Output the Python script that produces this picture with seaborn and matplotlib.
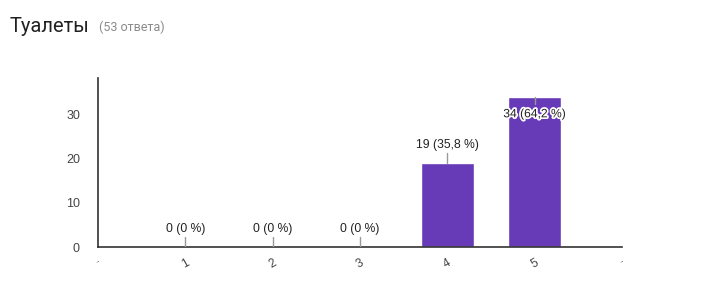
import matplotlib
matplotlib.use("Agg")
import matplotlib.pyplot as plt
import matplotlib.patheffects as pe
import seaborn as sns
import pandas as pd

title = "Туалеты"
subtitle = "(53 ответа)"
categories = ["", "1", "2", "3", "4", "5", " "]
counts = [0, 0, 0, 0, 19, 34, 0]
labels = ["", "0 (0 %)", "0 (0 %)", "0 (0 %)", "19 (35,8 %)", "34 (64,2 %)", ""]
yticks = [0, 10, 20, 30]

sns.set_theme(style="white")
plt.rcParams["font.family"] = ["Liberation Sans", "DejaVu Sans"]

df = pd.DataFrame({"cat": categories, "count": counts})

fig = plt.figure(figsize=(7.01, 2.87), dpi=100)
ax = fig.add_axes([98/701, 40/287, (622-98)/701, (247-78)/287])

sns.barplot(data=df, x="cat", y="count", order=categories, color="#673AB7",
            saturation=1, width=0.61, ax=ax)

ymax = 38.2
ax.set_xlim(0, 6)
ax.set_ylim(0, ymax)
ax.set_yticks(yticks)
ax.set_xlabel("")
ax.set_ylabel("")
ax.tick_params(axis="y", length=0, labelsize=9, labelcolor="#444444", pad=13)
ax.tick_params(axis="x", length=0, labelsize=8.5, labelcolor="#444444", pad=7)
ax.set_xticks(range(len(categories)))
ax.set_xticklabels(["..", "1", "2", "3", "4", "5", ".."], rotation=30)
for lbl in ax.get_xticklabels():
    lbl.set_fontsize(6 if lbl.get_text() == ".." else 8.5)

for s in ["top", "right"]:
    ax.spines[s].set_visible(False)
for s in ["left", "bottom"]:
    ax.spines[s].set_color("#333333")
    ax.spines[s].set_linewidth(1.2)

for i, (c, t) in enumerate(zip(counts, labels)):
    if not t:
        continue
    if c + 6 > ymax:
        ax.plot([i, i], [c, c - 1.6], color="#999999", lw=1, zorder=3)
        ax.text(i, c - 4, t, ha="center", va="center", fontsize=8.7, color="#222222",
                path_effects=[pe.withStroke(linewidth=2.5, foreground="white")], zorder=4)
    else:
        ax.plot([i, i], [c, c + 2.3], color="#999999", lw=1, zorder=3)
        ax.text(i, c + 4.1, t, ha="center", va="center", fontsize=8.7, color="#222222", zorder=4)

fig.text(10/701, 1 - 32/287, title, fontsize=14.5, color="#212121",
         family=["Roboto", "DejaVu Sans"], va="baseline")
fig.text(99/701, 1 - 31/287, subtitle, fontsize=9, color="#8a8a8a",
         family=["Roboto", "DejaVu Sans"], va="baseline")

fig.savefig("out.png", dpi=100)
